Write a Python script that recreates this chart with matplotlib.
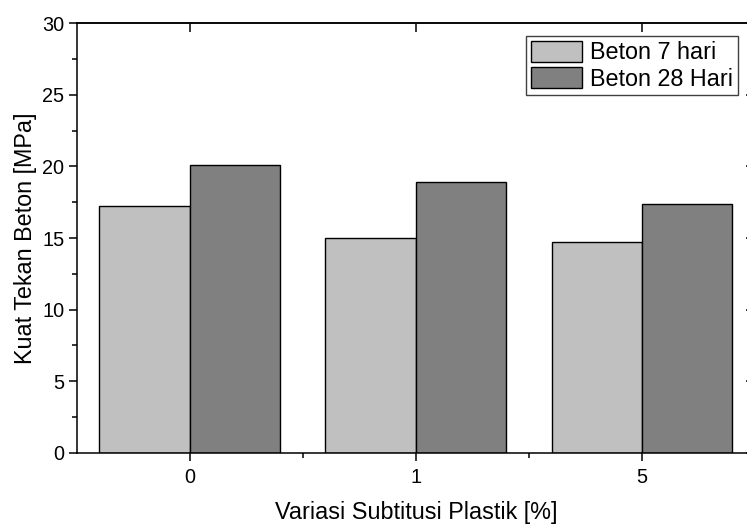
import numpy as np
import matplotlib
matplotlib.use('Agg')
import matplotlib.pyplot as plt
from matplotlib.ticker import MultipleLocator, FixedLocator

plt.rcParams['font.family'] = ['Liberation Sans', 'DejaVu Sans']

categories = ['0', '1', '5']
beton_7 = [17.2, 15.0, 14.7]
beton_28 = [20.1, 18.9, 17.4]
labels = ['Beton 7 hari', 'Beton 28 Hari']

x = np.arange(len(categories))
w = 0.4

fig = plt.figure(figsize=(7.47, 5.24), dpi=100)
ax = fig.add_axes([0.1027, 0.1355, 0.908, 0.8206])

ax.bar(x - w / 2, beton_7, w, color='#C0C0C0', edgecolor='black', linewidth=1.0, label=labels[0])
ax.bar(x + w / 2, beton_28, w, color='#808080', edgecolor='black', linewidth=1.0, label=labels[1])

ax.set_xlim(-0.5, 2.5)
ax.set_ylim(0, 30)
ax.set_xticks(x)
ax.set_xticklabels(categories)
ax.xaxis.set_minor_locator(FixedLocator([0.5, 1.5]))
ax.yaxis.set_major_locator(MultipleLocator(5))
ax.yaxis.set_minor_locator(MultipleLocator(2.5))

for s in ax.spines.values():
    s.set_linewidth(1.1)

ax.tick_params(axis='both', which='major', direction='out', length=6, width=1.1,
               labelsize=14.3, top=False, right=False)
ax.tick_params(axis='x', which='major', pad=5)
ax.tick_params(axis='y', which='major', pad=3)
ax.tick_params(axis='both', which='minor', direction='out', length=3.5, width=1.1)
ax.tick_params(axis='x', which='minor', top=False)
ax.tick_params(axis='y', which='minor', right=False)

# inward ticks on top and right, no labels
sec_x = ax.secondary_xaxis('top')
sec_x.set_xticks(x)
sec_x.tick_params(direction='in', length=6.5, width=1.1, labeltop=False)
sec_x.spines['top'].set_linewidth(1.1)
sec_y = ax.secondary_yaxis('right')
sec_y.set_yticks([0, 5, 10, 15, 20, 25, 30])
sec_y.tick_params(direction='in', length=6.5, width=1.1, labelright=False)

ax.set_xlabel('Variasi Subtitusi Plastik [%]', fontsize=16.8)
ax.set_ylabel('Kuat Tekan Beton [MPa]', fontsize=16.8, labelpad=4)
ax.xaxis.set_label_coords(0.5, -0.112)

leg = ax.legend(loc='upper right', bbox_to_anchor=(738 / 747, 1 - 36 / 524),
                bbox_transform=fig.transFigure, borderaxespad=0, fontsize=16.8,
                fancybox=False, framealpha=1, edgecolor='#404040',
                handlelength=2.2, handleheight=1.0, handletextpad=0.35,
                labelspacing=0.14, borderpad=0.2)
leg.get_frame().set_linewidth(1.0)

fig.savefig('out.png', dpi=100)
